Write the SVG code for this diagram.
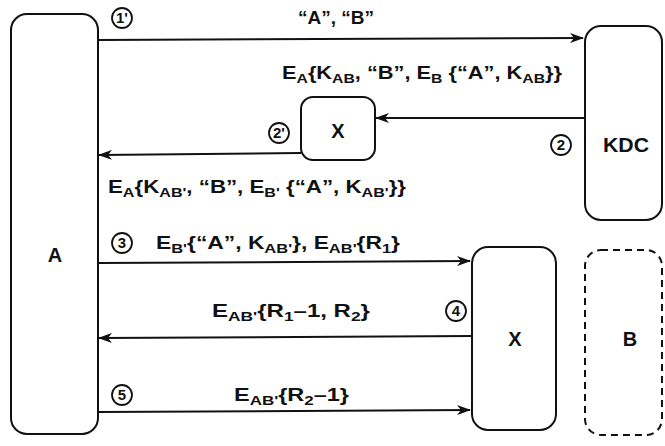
<svg xmlns="http://www.w3.org/2000/svg" width="665" height="446" viewBox="0 0 665 446">
<style>
.box{fill:#fff;stroke:#111;stroke-width:2}
.dash{fill:#fff;stroke:#111;stroke-width:2;stroke-dasharray:7,5}
.ln{stroke:#111;stroke-width:2;fill:none;marker-end:url(#ah)}
text{font-family:"Liberation Sans",Arial,sans-serif;fill:#111;font-weight:600}
.lbl{font-size:18px}
.nm{font-size:20px;text-anchor:middle}
.num{font-size:15px;text-anchor:middle}
.cir{fill:none;stroke:#111;stroke-width:1.8}
.s{font-size:13px}
</style>
<defs>
<marker id="ah" markerWidth="14" markerHeight="10" refX="13" refY="5" orient="auto" markerUnits="userSpaceOnUse">
<path d="M0,0 L14,5 L0,10 L4,5 Z" fill="#111"/>
</marker>
</defs>
<g id="nodeA"><rect class="box" x="11" y="14" width="87" height="420" rx="16"/><text class="nm" x="55" y="262">A</text></g>
<g id="nodeKDC"><rect class="box" x="585" y="26" width="77" height="194" rx="16"/><text class="nm" x="626" y="152" textLength="46" lengthAdjust="spacingAndGlyphs">KDC</text></g>
<g id="nodeX1"><rect class="box" x="301" y="97" width="74" height="63" rx="12"/><text class="nm" x="338" y="138">X</text></g>
<g id="nodeX2"><rect class="box" x="472" y="247" width="84" height="183" rx="16"/><text class="nm" x="515" y="346">X</text></g>
<g id="nodeB"><rect class="dash" x="585" y="250" width="77" height="185" rx="16"/><text class="nm" x="630" y="346">B</text></g>
<g id="connectors">
<line class="ln" x1="98" y1="40" x2="583" y2="38"/>
<line class="ln" x1="585" y1="118" x2="376" y2="118"/>
<line class="ln" x1="301" y1="153" x2="99" y2="155"/>
<line class="ln" x1="98" y1="263" x2="470" y2="261"/>
<line class="ln" x1="472" y1="336" x2="99" y2="338"/>
<line class="ln" x1="98" y1="412" x2="470" y2="410"/>
</g>
<g id="labels">
<circle class="cir" cx="122" cy="18" r="10"/><text class="num" x="122" y="23">1'</text>
<text class="lbl" x="298" y="24" textLength="76" lengthAdjust="spacingAndGlyphs">“A”, “B”</text>
<text class="lbl" x="282" y="79" textLength="280" lengthAdjust="spacingAndGlyphs">E<tspan class="s" dy="4">A</tspan><tspan dy="-4">{K</tspan><tspan class="s" dy="4">AB</tspan><tspan dy="-4">, “B”, E</tspan><tspan class="s" dy="4">B</tspan><tspan dy="-4"> {“A”, K</tspan><tspan class="s" dy="4">AB</tspan><tspan dy="-4">}}</tspan></text>
<circle class="cir" cx="561" cy="145" r="10"/><text class="num" x="561" y="150">2</text>
<circle class="cir" cx="279" cy="133" r="10"/><text class="num" x="279" y="138">2'</text>
<text class="lbl" x="108" y="193" textLength="298" lengthAdjust="spacingAndGlyphs">E<tspan class="s" dy="4">A</tspan><tspan dy="-4">{K</tspan><tspan class="s" dy="4">AB'</tspan><tspan dy="-4">, “B”, E</tspan><tspan class="s" dy="4">B'</tspan><tspan dy="-4"> {“A”, K</tspan><tspan class="s" dy="4">AB'</tspan><tspan dy="-4">}}</tspan></text>
<circle class="cir" cx="122" cy="243" r="10"/><text class="num" x="122" y="248">3</text>
<text class="lbl" x="156" y="249" textLength="244" lengthAdjust="spacingAndGlyphs">E<tspan class="s" dy="4">B'</tspan><tspan dy="-4">{“A”, K</tspan><tspan class="s" dy="4">AB'</tspan><tspan dy="-4">}, E</tspan><tspan class="s" dy="4">AB'</tspan><tspan dy="-4">{R</tspan><tspan class="s" dy="4">1</tspan><tspan dy="-4">}</tspan></text>
<circle class="cir" cx="456" cy="311" r="10"/><text class="num" x="456" y="316">4</text>
<text class="lbl" x="212" y="317" textLength="158" lengthAdjust="spacingAndGlyphs">E<tspan class="s" dy="4">AB'</tspan><tspan dy="-4">{R</tspan><tspan class="s" dy="4">1</tspan><tspan dy="-4">–1, R</tspan><tspan class="s" dy="4">2</tspan><tspan dy="-4">}</tspan></text>
<circle class="cir" cx="122" cy="395" r="10"/><text class="num" x="122" y="400">5</text>
<text class="lbl" x="234" y="401" textLength="115" lengthAdjust="spacingAndGlyphs">E<tspan class="s" dy="4">AB'</tspan><tspan dy="-4">{R</tspan><tspan class="s" dy="4">2</tspan><tspan dy="-4">–1}</tspan></text>
</g>
</svg>
